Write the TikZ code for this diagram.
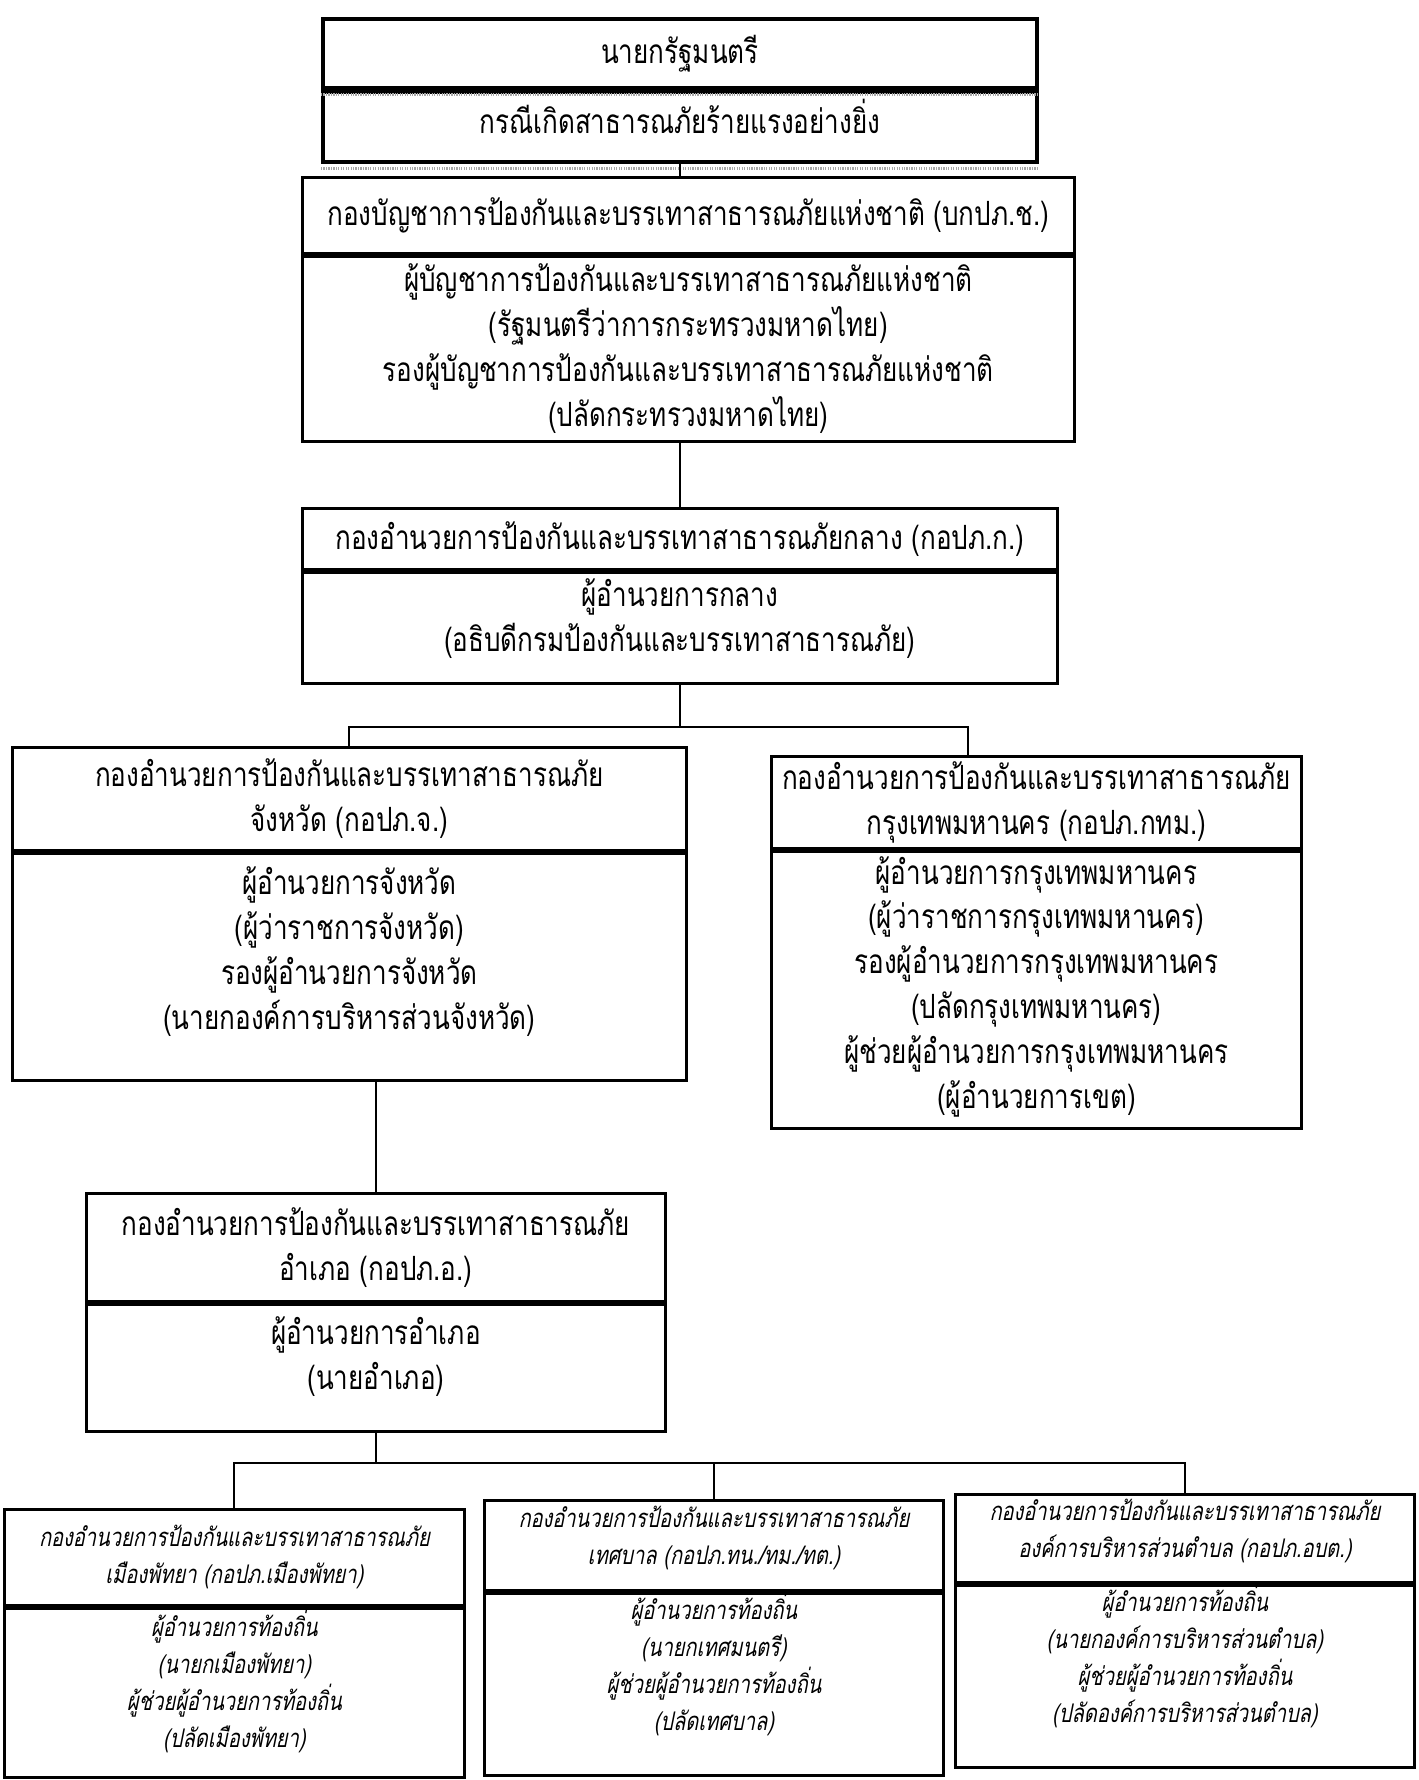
\documentclass[tikz,border=0pt]{standalone}
\usepackage{fontspec}
\newfontfamily\thaifont[Script=Thai,FakeStretch=0.78]{Loma}
\newfontfamily\thaislant[Script=Thai,FakeStretch=0.78,FakeSlant=0.2]{Loma}
\usetikzlibrary{positioning}
\tikzset{
  head/.style={rectangle, draw, line width=1.6pt, align=center, inner sep=0pt,
    font=\thaifont\fontsize{19}{25.5}\selectfont},
  topHead/.style={head, line width=2.2pt},
  subHead/.style={head, font=\thaislant\fontsize{14.6}{21}\selectfont},
  lift/.style={text depth=#1},
  hatch/.style={line width=2pt, gray!70, dash pattern=on 0.7pt off 0.7pt},
  link/.style={line width=1.1pt}
}

\begin{document}
\begin{tikzpicture}[x=0.02cm, y=-0.02cm]
  \useasboundingbox (0,0) rectangle (1418,1780);
  % top level
  \node [topHead, minimum width=14.28cm, minimum height=1.38cm, anchor=north west] (pm) at (321,17) {นายกรัฐมนตรี};
  \node [topHead, lift=0.4cm, minimum width=14.28cm, minimum height=1.40cm, below=0pt of pm] (pmCase) {กรณีเกิดสาธารณภัยร้ายแรงอย่างยิ่ง};
  \draw [hatch] ([yshift=-2.6pt]pmCase.north west) -- ([yshift=-2.6pt]pmCase.north east);
  \draw [hatch] ([yshift=-2.6pt]pmCase.south west) -- ([yshift=-2.6pt]pmCase.south east);
  % national
  \node [head, minimum width=15.44cm, minimum height=1.52cm, anchor=north west] (nat) at (301,176) {กองบัญชาการป้องกันและบรรเทาสาธารณภัยแห่งชาติ (บกปภ.ช.)};
  \node [head, minimum width=15.44cm, minimum height=3.70cm, below=0pt of nat] (natBody) {ผู้บัญชาการป้องกันและบรรเทาสาธารณภัยแห่งชาติ\\(รัฐมนตรีว่าการกระทรวงมหาดไทย)\\รองผู้บัญชาการป้องกันและบรรเทาสาธารณภัยแห่งชาติ\\(ปลัดกระทรวงมหาดไทย)};
  % central
  \node [head, minimum width=15.10cm, minimum height=1.22cm, anchor=north west] (cen) at (301,507) {กองอำนวยการป้องกันและบรรเทาสาธารณภัยกลาง (กอปภ.ก.)};
  \node [head, lift=0.5cm, minimum width=15.10cm, minimum height=2.22cm, below=0pt of cen] (cenBody) {ผู้อำนวยการกลาง\\(อธิบดีกรมป้องกันและบรรเทาสาธารณภัย)};
  % province and bangkok
  \node [head, minimum width=13.48cm, minimum height=2.06cm, anchor=north west] (prov) at (11,746) {กองอำนวยการป้องกันและบรรเทาสาธารณภัย\\จังหวัด (กอปภ.จ.)};
  \node [head, lift=0.75cm, minimum width=13.48cm, minimum height=4.54cm, below=0pt of prov] (provBody) {ผู้อำนวยการจังหวัด\\(ผู้ว่าราชการจังหวัด)\\รองผู้อำนวยการจังหวัด\\(นายกองค์การบริหารส่วนจังหวัด)};
  \node [head, minimum width=10.60cm, minimum height=1.84cm, anchor=north west] (bkk) at (770,755) {กองอำนวยการป้องกันและบรรเทาสาธารณภัย\\กรุงเทพมหานคร (กอปภ.กทม.)};
  \node [head, lift=0.3cm, minimum width=10.60cm, minimum height=5.54cm, below=0pt of bkk] (bkkBody) {ผู้อำนวยการกรุงเทพมหานคร\\(ผู้ว่าราชการกรุงเทพมหานคร)\\รองผู้อำนวยการกรุงเทพมหานคร\\(ปลัดกรุงเทพมหานคร)\\ผู้ช่วยผู้อำนวยการกรุงเทพมหานคร\\(ผู้อำนวยการเขต)};
  % district
  \node [head, minimum width=11.58cm, minimum height=2.16cm, anchor=north west] (amp) at (85,1192) {กองอำนวยการป้องกันและบรรเทาสาธารณภัย\\อำเภอ (กอปภ.อ.)};
  \node [head, lift=0.6cm, minimum width=11.58cm, minimum height=2.54cm, below=0pt of amp] (ampBody) {ผู้อำนวยการอำเภอ\\(นายอำเภอ)};
  % local
  \node [subHead, minimum width=9.20cm, minimum height=1.92cm, anchor=north west] (pty) at (3,1508) {กองอำนวยการป้องกันและบรรเทาสาธารณภัย\\เมืองพัทยา (กอปภ.เมืองพัทยา)};
  \node [subHead, lift=0.55cm, minimum width=9.20cm, minimum height=3.38cm, below=0pt of pty] (ptyBody) {ผู้อำนวยการท้องถิ่น\\(นายกเมืองพัทยา)\\ผู้ช่วยผู้อำนวยการท้องถิ่น\\(ปลัดเมืองพัทยา)};
  \node [subHead, lift=0.4cm, minimum width=9.18cm, minimum height=1.80cm, anchor=north west] (tes) at (483,1499) {กองอำนวยการป้องกันและบรรเทาสาธารณภัย\\เทศบาล (กอปภ.ทน./ทม./ทต.)};
  \node [subHead, lift=0.9cm, minimum width=9.18cm, minimum height=3.64cm, below=0pt of tes] (tesBody) {ผู้อำนวยการท้องถิ่น\\(นายกเทศมนตรี)\\ผู้ช่วยผู้อำนวยการท้องถิ่น\\(ปลัดเทศบาล)};
  \node [subHead, lift=0.4cm, minimum width=9.18cm, minimum height=1.76cm, anchor=north west] (obt) at (954,1493) {กองอำนวยการป้องกันและบรรเทาสาธารณภัย\\องค์การบริหารส่วนตำบล (กอปภ.อบต.)};
  \node [subHead, lift=0.9cm, minimum width=9.18cm, minimum height=3.62cm, below=0pt of obt] (obtBody) {ผู้อำนวยการท้องถิ่น\\(นายกองค์การบริหารส่วนตำบล)\\ผู้ช่วยผู้อำนวยการท้องถิ่น\\(ปลัดองค์การบริหารส่วนตำบล)};
  % links
  \coordinate (bkkIn) at (968,755);
  \draw [link] (pmCase.south) -- (pmCase.south |- nat.north);
  \draw [link] (pmCase.south |- natBody.south) -- (pmCase.south |- cen.north);
  \draw [link] (cenBody.south) -- ++(0,42) coordinate (split1);
  \draw [link] (prov.north) |- (split1) -| (bkkIn);
  \draw [link] (provBody.south -| amp.north) -- (amp.north);
  \draw [link] (ampBody.south) -- ++(0,30) coordinate (split2);
  \draw [link] (pty.north) |- (split2) -| (obt.north);
  \draw [link] (split2 -| tes.north) -- (tes.north);
\end{tikzpicture}
\end{document}
